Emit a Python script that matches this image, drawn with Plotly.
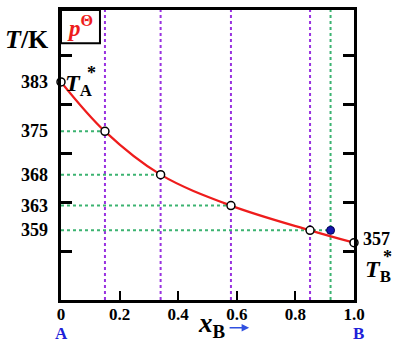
import plotly.graph_objects as go

# ---- data ----
x_B = [0.0, 0.15, 0.34, 0.58, 0.85, 1.0]          # liquid composition points on the curve
T_K = [383, 375, 368, 363, 359, 357]              # boiling temperatures (K)
y_label_vals = [383, 375, 368, 363, 359]
x_tick_vals = [0.0, 0.2, 0.4, 0.6, 0.8, 1.0]
x_tick_text = ["0", "0.2", "0.4", "0.6", "0.8", "1.0"]
purple_x = [0.15, 0.34, 0.58, 0.85]               # vertical purple guide lines
green_h = [(0.15, 375), (0.34, 368), (0.58, 363), (0.92, 359)]  # horizontal green guides (end x, T)
vapor_x, vapor_T = 0.92, 359                      # blue point

FONT = "Liberation Serif"
RED = "#EE1C1C"
PURPLE = "#9932E0"
GREEN = "#3CB371"
BLUE = "#2020D8"

T_RANGE = [347.74, 394.62]
# unlabeled schematic tick marks: evenly spaced, 5.93 intervals over the axis height
mark_step = (T_RANGE[1] - T_RANGE[0]) / 5.93
mark_vals = [T_RANGE[0] + k * mark_step for k in range(1, 6)]

fig = go.Figure()

for xv in purple_x:
    fig.add_trace(go.Scatter(x=[xv, xv], y=T_RANGE, mode="lines",
                             line=dict(color=PURPLE, width=2, dash="dot"),
                             hoverinfo="skip", showlegend=False))
fig.add_trace(go.Scatter(x=[vapor_x, vapor_x], y=T_RANGE, mode="lines",
                         line=dict(color=GREEN, width=2, dash="dot"),
                         hoverinfo="skip", showlegend=False))
for xe, tv in green_h:
    fig.add_trace(go.Scatter(x=[0, xe], y=[tv, tv], mode="lines",
                             line=dict(color=GREEN, width=2, dash="dot"),
                             hoverinfo="skip", showlegend=False))
fig.add_trace(go.Scatter(x=x_B, y=T_K, mode="lines",
                         line=dict(color=RED, width=2.2, shape="spline", smoothing=1.0),
                         hoverinfo="skip", showlegend=False))
fig.add_trace(go.Scatter(x=x_B, y=T_K, mode="markers",
                         marker=dict(size=8, color="white", line=dict(color="black", width=1.5)),
                         cliponaxis=False, hoverinfo="skip", showlegend=False))
fig.add_trace(go.Scatter(x=[vapor_x], y=[vapor_T], mode="markers",
                         marker=dict(size=8, color="#1515B0", line=dict(color="#000050", width=1)),
                         cliponaxis=False, hoverinfo="skip", showlegend=False))

tickfont = dict(family=FONT, size=18, color="black")

fig.update_layout(
    width=398, height=351,
    margin=dict(l=61, r=44, t=7, b=51),
    paper_bgcolor="white", plot_bgcolor="white",
    font=dict(family=FONT, color="black"),
    xaxis=dict(range=[0, 1], tickvals=x_tick_vals,
               ticktext=["<b>%s</b>" % t for t in x_tick_text],
               ticks="inside", ticklen=9, tickwidth=2, tickcolor="black",
               tickfont=dict(family=FONT, size=17, color="black"), ticklabelstandoff=-3,
               showline=True, linewidth=2.5, linecolor="black", mirror=True,
               showgrid=False, zeroline=False),
    yaxis=dict(range=T_RANGE, tickmode="array", tickvals=mark_vals,
               ticktext=[" "] * len(mark_vals),
               ticks="inside", ticklen=11, tickwidth=2.5, tickcolor="black",
               showline=True, linewidth=2.5, linecolor="black", mirror="ticks",
               showgrid=False, zeroline=False),
)

fig.add_shape(type="rect", xref="paper", yref="paper", x0=0, x1=0.133, y0=0.885, y1=1,
              line=dict(color="black", width=2), fillcolor="white", layer="above")

ann = []
for v in y_label_vals:
    ann.append(dict(x=0, y=v, xanchor="right", yanchor="middle", xshift=-11,
                    text="<b>%d</b>" % v, font=tickfont, showarrow=False))
ann.append(dict(xref="paper", yref="paper", x=0.066, y=0.943, xanchor="center", yanchor="middle",
                text="<b><i>p</i><sup>Θ</sup></b>", font=dict(family=FONT, size=23, color=RED),
                showarrow=False))
ann.append(dict(xref="paper", yref="paper", x=-0.116, y=0.898, xanchor="center", yanchor="middle",
                text="<b><i>T</i>/K</b>", font=dict(family=FONT, size=26, color="black"),
                showarrow=False))
# T_A*
ann.append(dict(x=x_B[0], y=T_K[0], xanchor="left", yanchor="middle", xshift=2, yshift=-3,
                text="<b><i>T</i><sub>A</sub></b>", font=dict(family=FONT, size=24, color="black"),
                showarrow=False))
ann.append(dict(x=x_B[0], y=T_K[0], xanchor="center", yanchor="middle", xshift=30, yshift=9,
                text="<b>*</b>", font=dict(family=FONT, size=18, color="black"), showarrow=False))
# 357 and T_B*
ann.append(dict(x=x_B[-1], y=T_K[-1], xanchor="left", yanchor="middle", xshift=7, yshift=4,
                text="<b>%d</b>" % T_K[-1], font=tickfont, showarrow=False))
ann.append(dict(x=x_B[-1], y=T_K[-1], xanchor="left", yanchor="middle", xshift=9, yshift=-28,
                text="<b><i>T</i><sub>B</sub></b>", font=dict(family=FONT, size=24, color="black"),
                showarrow=False))
ann.append(dict(x=x_B[-1], y=T_K[-1], xanchor="center", yanchor="middle", xshift=33, yshift=-14,
                text="<b>*</b>", font=dict(family=FONT, size=18, color="black"), showarrow=False))
# A and B
ann.append(dict(xref="paper", yref="paper", x=0.0, y=-0.115, xanchor="center", yanchor="middle",
                text="<b>A</b>", font=dict(family=FONT, size=17, color=BLUE), showarrow=False))
ann.append(dict(xref="paper", yref="paper", x=1.014, y=-0.115, xanchor="center", yanchor="middle",
                text="<b>B</b>", font=dict(family=FONT, size=17, color=BLUE), showarrow=False))
# x_B axis title and arrow
ann.append(dict(xref="paper", yref="paper", x=0.515, y=-0.085, xanchor="center", yanchor="middle",
                text="<b><i>x</i><sub>B</sub></b>", font=dict(family=FONT, size=27, color="black"),
                showarrow=False))
ann.append(dict(xref="paper", yref="paper", x=0.642, y=-0.096, ax=-21, ay=0, text="",
                showarrow=True, arrowhead=2, arrowsize=1, arrowwidth=1.5, arrowcolor="#3050E0"))
fig.update_layout(annotations=ann)

fig.write_html("out.html")
